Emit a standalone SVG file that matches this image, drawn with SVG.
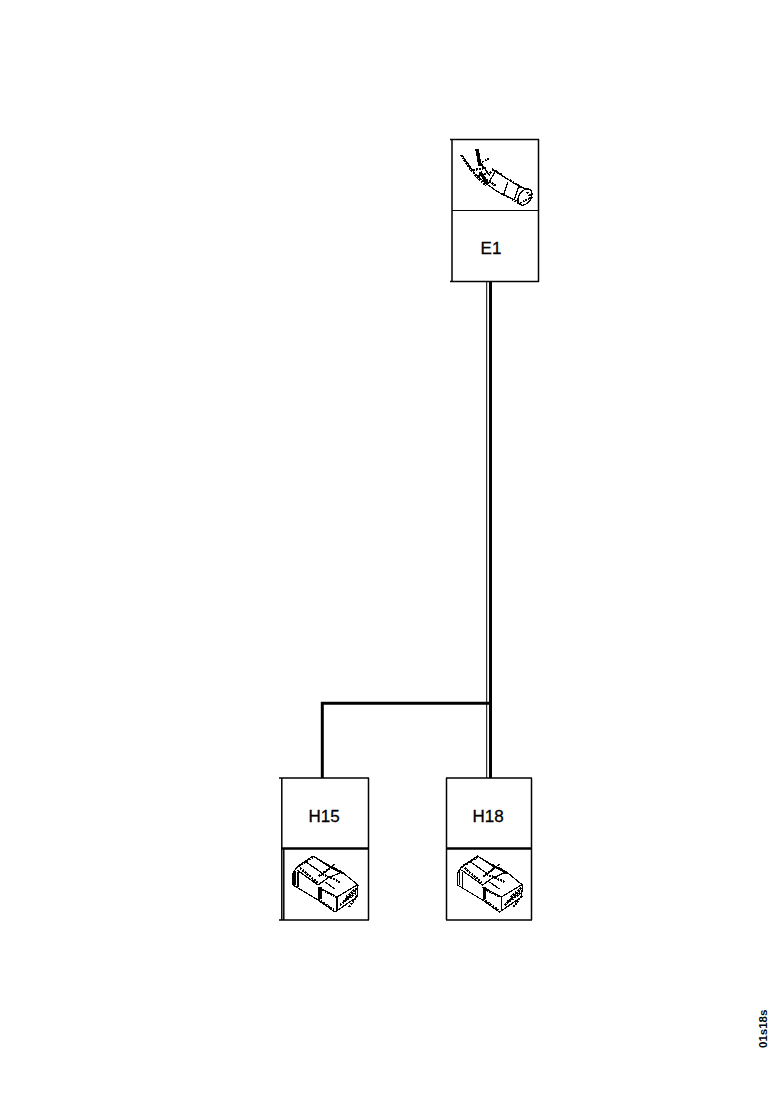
<svg xmlns="http://www.w3.org/2000/svg" width="778" height="1100" viewBox="0 0 778 1100">
<style>
.bg{fill:#fff}
.box{fill:none;stroke:#000;stroke-width:1.5}
.div{stroke:#000;stroke-width:1.2;fill:none}
.divb{stroke:#000;stroke-width:2.5;fill:none}
.wire{stroke:#000;stroke-width:3;fill:none}
.thin{stroke:#000;stroke-width:1;fill:none}
.ico{stroke:#000;stroke-width:1.2;fill:none;stroke-linejoin:round;shape-rendering:crispEdges}
.icob{stroke:#000;stroke-width:2.2;fill:none;stroke-dasharray:2 1;shape-rendering:crispEdges}
.solid{stroke:#000;stroke-width:3.500;fill:none;shape-rendering:crispEdges}
.lab{font-family:"Liberation Sans",Arial,sans-serif;font-size:17px;fill:#000;stroke:#000;stroke-width:.3;text-anchor:middle}
.ref{font-family:"Liberation Sans",Arial,sans-serif;font-size:11.5px;font-weight:bold;fill:#000}
</style>
<defs>
<g id="conn">
<path class="ico" d="M313 856L297 867L293 873V885L318 900L335 912L357 897L358 885L342 872L328 865Z"/>
<path class="ico" d="M297 870L318 885L328 878L342 872M318 887L337 897L357 885M313 856L328 866L343 874M325 882L335 889M306 862L322 873M335 864L320 876M337 897V911M295 871V885M298 872V887"/>
<path class="solid" d="M320 887V899"/>
<path class="icob" d="M313 857L297 867M328 865L342 872M300 868L318 883M322 874L340 882M322 890L336 897M340 905L356 893M343 902L356 890M346 897L357 888M349 907L358 895M318 899L334 910M330 868L318 877"/>
</g>
</defs>
<rect class="bg" width="778" height="1100"/>
<g id="connectors">
<path class="wire" d="M490.500 282V778M322.300 778V703.300H490.500"/>
<path class="thin" d="M486.700 282V778"/>
</g>
<g id="E1">
<path class="box" d="M450 139.500H539M452 139V282M450 281.500H539M538.500 139V282"/>
<path class="div" d="M452 210.500H538"/>
<path class="ico" d="M476 149L479 166M492 169L515 184L528 190M498 192L517 201M475 174L488 185L498 192M462 155L475 174M480 162L490 176M495 172L488 184M508 182L503 196M519 186L514 200"/>
<ellipse class="ico" cx="525" cy="197" rx="6" ry="9" transform="rotate(35 525 197)"/>
<path class="solid" d="M477 149L480 166M480 172L488 184"/>
<path class="icob" d="M461 155L468 166L476 176L486 186M473 170L486 168M478 176L492 172M484 178L496 186M492 169L502 175M510 180L522 188M498 192L508 197M512 199L520 204M520 203L530 198M527 192L532 198M482 162L490 158"/>
<text class="lab" x="491" y="254">E1</text>
</g>
<g id="H15">
<path class="box" d="M279 778H369M281.800 778V920M279 920H369M368.500 778V920M283.800 849V920"/>
<path class="divb" d="M281 848.500H369"/>
<use href="#conn"/>
<text class="lab" x="324" y="822">H15</text>
</g>
<g id="H18">
<path class="box" d="M446 778H532M446.500 778V920M446 920H532M531.500 778V920"/>
<path class="divb" d="M446 848.500H532"/>
<use href="#conn" x="164.500"/>
<text class="lab" x="488" y="822">H18</text>
</g>
<text class="ref" transform="translate(767 1048) rotate(-90)">01s18s</text>
</svg>
